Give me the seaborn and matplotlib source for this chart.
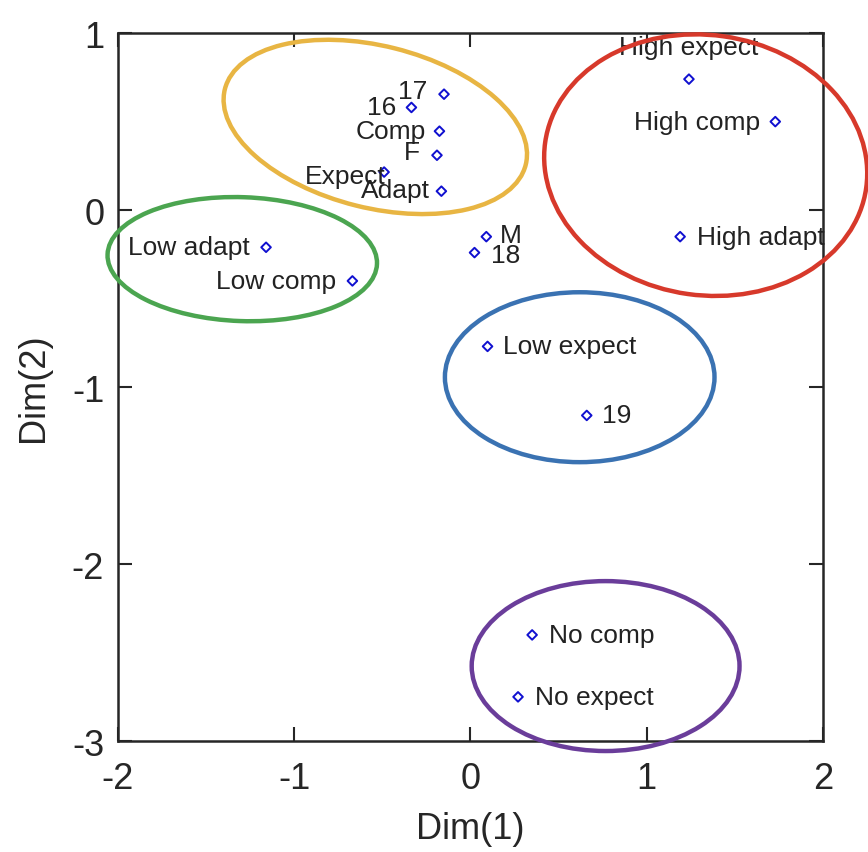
import pandas as pd
import seaborn as sns
import matplotlib.pyplot as plt
from matplotlib.patches import Ellipse

# category coordinates
labels = ['High expect', 'High comp', 'High adapt', '17', '16', 'Comp', 'F', 'Expect',
          'Adapt', 'Low adapt', 'Low comp', 'M', '18', 'Low expect', '19',
          'No comp', 'No expect']
dim1 = [1.24, 1.73, 1.19, -0.15, -0.335, -0.176, -0.19, -0.49,
        -0.165, -1.16, -0.67, 0.09, 0.023, 0.097, 0.66, 0.35, 0.27]
dim2 = [0.74, 0.50, -0.15, 0.655, 0.58, 0.446, 0.31, 0.215,
        0.107, -0.21, -0.40, -0.15, -0.24, -0.77, -1.16, -2.40, -2.75]

# label placement: (dx, dy) in points, horizontal alignment
label_pos = {
    'High expect': (0, 23, 'center'), 'High comp': (-11, 0, 'right'),
    'High adapt': (12, 0, 'left'), '17': (-12, 2, 'right'), '16': (-11, 0, 'right'),
    'Comp': (-10, 0, 'right'), 'F': (-12, 2, 'right'), 'Expect': (1, -3, 'right'),
    'Adapt': (-8, 1, 'right'), 'Low adapt': (-12, 0, 'right'),
    'Low comp': (-12, 0, 'right'), 'M': (10, 1, 'left'), '18': (12, -2, 'left'),
    'Low expect': (11, 0, 'left'), '19': (11, 0, 'left'),
    'No comp': (12, 0, 'left'), 'No expect': (12, 0, 'left'),
}

# cluster outlines: center x, center y, width, height, angle, colour
clusters = [
    (-0.54, 0.47, 1.76, 0.915, -14, '#E8B543'),
    (1.335, 0.254, 1.84, 1.47, -8, '#D7392B'),
    (-1.295, -0.277, 1.53, 0.70, -2, '#4BA550'),
    (0.62, -0.944, 1.53, 0.96, 0, '#3A72B2'),
    (0.767, -2.576, 1.52, 0.96, 0, '#6A3D9A'),
]

df = pd.DataFrame({'label': labels, 'dim1': dim1, 'dim2': dim2})

sns.set_style('ticks')
plt.rcParams['font.family'] = ['Liberation Sans', 'DejaVu Sans']
plt.rcParams['axes.unicode_minus'] = False

fig = plt.figure(figsize=(8.68, 8.53), dpi=100)
ax = fig.add_axes([0.136, 0.130, 0.812, 0.830])

sns.scatterplot(data=df, x='dim1', y='dim2', marker='D', s=24, fc='none',
                ec='#1010D0', linewidth=1.4, ax=ax, zorder=3)

for _, r in df.iterrows():
    dx, dy, ha = label_pos[r['label']]
    ax.annotate(r['label'], (r['dim1'], r['dim2']), xytext=(dx, dy),
                textcoords='offset points', ha=ha, va='center',
                fontsize=19, color='#222222')

for cx, cy, w, h, ang, col in clusters:
    ax.add_patch(Ellipse((cx, cy), w, h, angle=ang, fill=False, ec=col,
                         lw=3.2, clip_on=False, zorder=5))

ax.set_xlim(-2, 2)
ax.set_ylim(-3, 1)
ax.set_xticks([-2, -1, 0, 1, 2])
ax.set_yticks([-3, -2, -1, 0, 1])
ax.tick_params(direction='in', length=10, width=1.5, labelsize=26,
               top=True, right=True)
ax.tick_params(axis='x', pad=14)
ax.tick_params(axis='y', pad=10)
for s in ax.spines.values():
    s.set_linewidth(1.8)
    s.set_visible(True)
ax.set_xlabel('Dim(1)', fontsize=26, labelpad=11)
ax.set_ylabel('Dim(2)', fontsize=26, labelpad=15)

fig.savefig('out.png', dpi=100)
